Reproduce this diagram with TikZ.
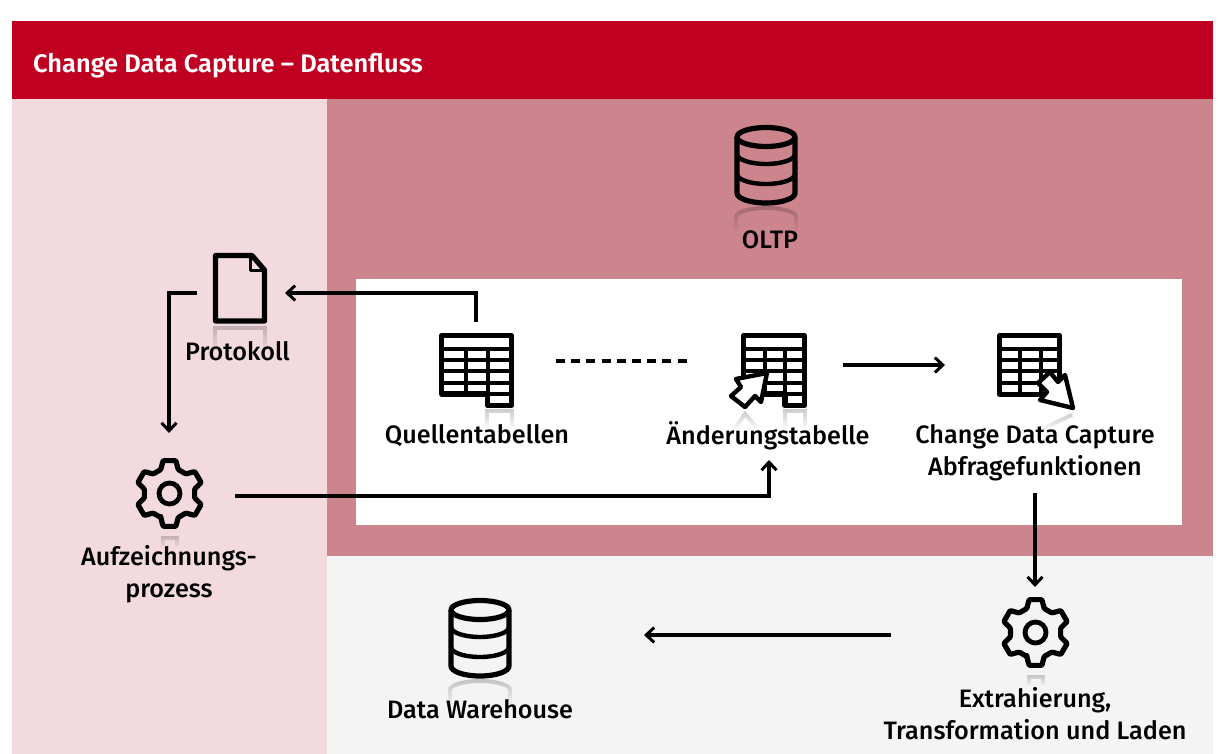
\documentclass[tikz,border=0pt]{standalone}
\usepackage{fontspec}
\setmainfont{Fira Sans Medium}
\newfontfamily\titlefont{Fira Sans SemiBold}
\usetikzlibrary{arrows.meta,fadings}
\definecolor{hdr}{HTML}{BF0020}
\definecolor{pale}{HTML}{F3DADF}
\definecolor{rose}{HTML}{CC848D}
\definecolor{greyb}{HTML}{F4F4F4}
\tikzset{
  x=1pt,y=-1pt,
  panel/.style={fill=#1,draw=none},
  lbl/.style={font=\fontsize{25.2}{32}\selectfont,align=center,text=black,inner sep=0pt},
  icon/.style={line width=5.2pt,draw=black,line join=round},
  grid/.style={line width=4pt,draw=black},
  flow/.style={line width=3.6pt,draw=black,-{Straight Barb[length=8pt,width=15pt,line width=3pt]}},
  plain/.style={line width=3.6pt,draw=black},
  ghost/.style={line width=4pt,draw=black,opacity=.2,path fading=south},
  pics/db/.style={code={
    \draw[ghost] (-30,106) -- (-30,92) arc[start angle=180,end angle=0,x radius=30,y radius=-9] -- (30,106);
    \draw[icon] (-29,12) -- (-29,68) arc[start angle=180,end angle=360,x radius=29,y radius=-10] -- (29,12);
    \draw[icon] (0,12) ellipse[x radius=29,y radius=9.5];
    \draw[line width=4.4pt] (-29,29) arc[start angle=180,end angle=360,x radius=29,y radius=-10];
    \draw[line width=4.4pt] (-29,49) arc[start angle=180,end angle=360,x radius=29,y radius=-10];
  }},
  pics/gear/.style={code={
    \draw[ghost] (-7,52) -- (-7,44) -- (7,44) -- (7,52);
    \draw[icon,rounded corners=1pt] (110:25.5)
      \foreach \a in {90,30,-30,-90,-150,-210}{ -- ({\a+20}:25.5) -- ({\a+11}:33.5) -- ({\a-11}:33.5) -- ({\a-20}:25.5) } -- cycle;
    \draw[line width=4.8pt] (0,0) circle[radius=10.5];
  }}
}
\begin{document}
\begin{tikzpicture}
\useasboundingbox (0,0) rectangle (1225,754);
\fill[white] (0,0) rectangle (1225,754);
% panels
\path[panel=hdr] (12,21) rectangle (1213,99);
\path[panel=pale] (12,99) rectangle (327,754);
\path[panel=rose] (327,99) rectangle (1213,556);
\path[panel=greyb] (327,556) rectangle (1213,754);
\path[panel=white] (356,279) rectangle (1182,525);
\node[anchor=west,inner sep=0pt,text=white,font=\titlefont\fontsize{25.4}{30}\selectfont] (title) at (33,66) {Change Data Capture – Datenfluss};

% databases
\pic at (766,125) {db};
\pic at (480,598) {db};

% document
\draw[ghost] (215,350) -- (215,328) -- (265,328) -- (265,350);
\draw[icon] (215.5,255.5) -- (252,255.5) -- (264.5,270) -- (264.5,321) -- (215.5,321) -- cycle;
\draw[line width=3pt,line join=round] (250,256) -- (250,270) -- (264,270);

% table 1: Quellentabellen
\draw[ghost] (487,428) -- (487,411) -- (512,411) -- (512,428);
\draw[icon] (441.8,335.8) -- (511.5,335.8) -- (511.5,405.5) -- (487.5,405.5) -- (487.5,394) -- (441.8,394) -- cycle;
\draw[grid] (442,348.5) -- (511,348.5) (442,360) -- (511,360) (442,371) -- (511,371) (442,382.5) -- (511,382.5) (487,394) -- (511,394);
\draw[grid] (465.5,349) -- (465.5,394) (488,349) -- (488,394);

% table 2: Aenderungstabelle
\draw[ghost] (785,428) -- (785,411) -- (805,411) -- (805,428);
\draw[ghost] (735,428) -- (745,414) -- (757,428);
\draw[icon] (743.5,335.8) -- (804.5,335.8) -- (804.5,405.5) -- (785,405.5) -- (785,394) -- (743.5,394) -- cycle;
\draw[grid] (744,348.5) -- (804,348.5) (744,360) -- (804,360) (744,371) -- (804,371) (744,382.5) -- (804,382.5) (785,394) -- (804,394);
\draw[grid] (764.5,349) -- (764.5,394) (785,349) -- (785,394);
\fill[white,draw=black,line width=4.4pt,line join=round] (767,373) -- (736,379) -- (741,387) -- (731,396) -- (745,407) -- (755,396) -- (761,402) -- cycle;

% table 3: Abfragefunktionen
\draw[ghost] (1040,430) -- (1072,415);
\draw[icon] (999.5,335.8) -- (1059.5,335.8) -- (1059.5,394.5) -- (999.5,394.5) -- cycle;
\draw[grid] (1000,348.5) -- (1059,348.5) (1000,360) -- (1059,360) (1000,371) -- (1059,371) (1000,382.5) -- (1059,382.5);
\draw[grid] (1020,349) -- (1020,394) (1040.5,349) -- (1040.5,394);
\fill[white,draw=black,line width=4.4pt,line join=round] (1073,408) -- (1040,400) -- (1047,392) -- (1038,383) -- (1050,372) -- (1058,382) -- (1065,375) -- cycle;

% gears
\pic at (169.5,493.5) {gear};
\pic at (1035.5,632.5) {gear};

% labels
\node[lbl] (oltp) at (770,240) {OLTP};
\node[lbl] (proto) at (237.5,351) {Protokoll};
\node[lbl] (quell) at (477,436) {Quellentabellen};
\node[lbl] (aend) at (768,436) {Änderungstabelle};
\node[lbl] (cdc) at (1035,453) {Change Data Capture\\Abfragefunktionen};
\node[lbl] (auf) at (169,574) {Aufzeichnungs-\\prozess};
\node[lbl] (dw) at (480,709) {Data Warehouse};
\node[lbl] (etl) at (1035,714) {Extrahierung,\\Transformation und Laden};

% connector anchors
\coordinate (q) at (476,322);
\coordinate (qc) at (476,293);
\coordinate (pin) at (285,293);
\coordinate (pout) at (197,293);
\coordinate (pc) at (169,293);
\coordinate (gin) at (169,433);
\coordinate (gout) at (235,496);
\coordinate (gc) at (769,496);
\coordinate (ain) at (769,460);
\coordinate (d1) at (556,361);
\coordinate (d2) at (688,361);
\coordinate (a1) at (843,365);
\coordinate (a2) at (945,365);
\coordinate (c1) at (1035,493);
\coordinate (c2) at (1035,587);
\coordinate (e1) at (891,635);
\coordinate (e2) at (644,635);

\draw[flow] (q) -- (qc) -- (pin);
\draw[flow] (pout) -- (pc) -- (gin);
\draw[flow] (gout) -- (gc) -- (ain);
\draw[plain,dash pattern=on 9pt off 6.2pt] (d1) -- (d2);
\draw[flow] (a1) -- (a2);
\draw[flow] (c1) -- (c2);
\draw[flow] (e1) -- (e2);
\end{tikzpicture}
\end{document}
